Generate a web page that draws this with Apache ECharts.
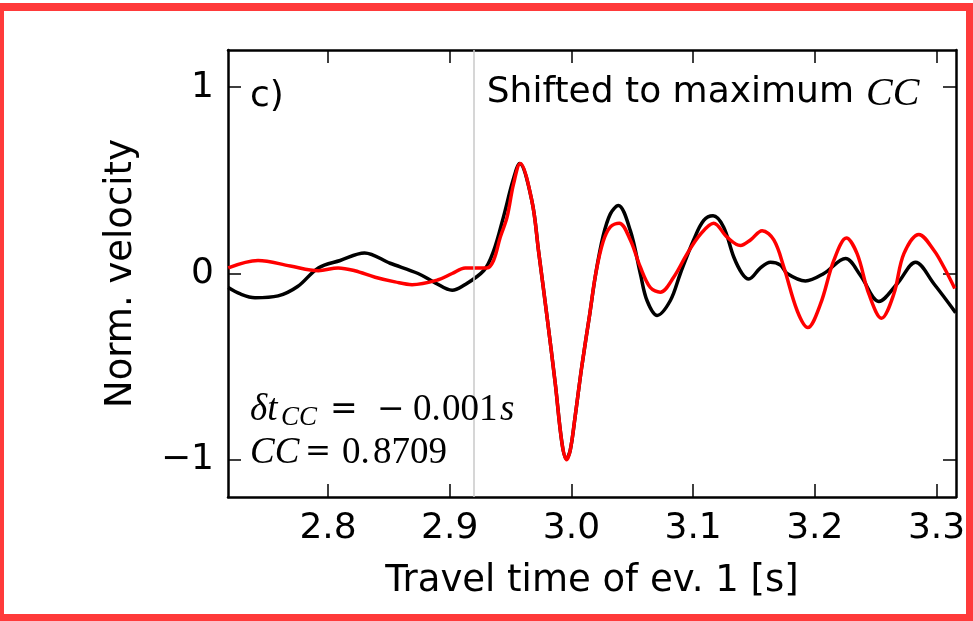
<!DOCTYPE html>
<html>
<head>
<meta charset="utf-8">
<script src="https://cdn.jsdelivr.net/npm/echarts@6/dist/echarts.min.js"></script>
<style>html,body{margin:0;padding:0;background:#fff}#c{width:973px;height:621px}</style>
</head>
<body>
<div id="c"></div>
<script>
// ---- data ----
const xTicks = [2.8, 2.9, 3.0, 3.1, 3.2, 3.3];
const yTicks = [-1, 0, 1];
const xRange = [2.7178, 3.316];
const yRange = [-1.2, 1.2];
const refLineTime = 2.9187;

const blackT = [2.718, 2.728, 2.740, 2.759, 2.775, 2.792, 2.810, 2.830, 2.851, 2.874, 2.888, 2.902, 2.910, 2.928, 2.936, 2.944, 2.952, 2.9574, 2.9675, 2.973, 2.980, 2.9867, 2.9922, 2.9958, 2.999, 3.003, 3.0085, 3.015, 3.020, 3.026, 3.032, 3.0385, 3.0484, 3.0566, 3.0621, 3.0704, 3.0813, 3.0895, 3.1004, 3.1087, 3.1164, 3.125, 3.1333, 3.1402, 3.1457, 3.1553, 3.1635, 3.1717, 3.1772, 3.1923, 3.2074, 3.2252, 3.2375, 3.2526, 3.2677, 3.2828, 3.2978, 3.3157];
const blackV = [-0.075, -0.11, -0.13, -0.12, -0.07, 0.03, 0.07, 0.11, 0.055, 0.0, -0.05, -0.09, -0.07, 0.016, 0.12, 0.30, 0.50, 0.59, 0.39, 0.12, -0.235, -0.59, -0.91, -0.995, -0.95, -0.77, -0.50, -0.22, 0.0, 0.20, 0.32, 0.365, 0.23, 0.0, -0.145, -0.225, -0.145, 0.0, 0.18, 0.285, 0.31, 0.25, 0.09, 0.0, -0.03, 0.03, 0.06, 0.045, 0.0, -0.04, 0.0, 0.08, -0.01, -0.15, -0.055, 0.06, -0.055, -0.21];

const redT = [2.718, 2.7425, 2.769, 2.792, 2.8083, 2.822, 2.8387, 2.855, 2.869, 2.890, 2.902, 2.9127, 2.9305, 2.936, 2.9415, 2.947, 2.9524, 2.9579, 2.9675, 2.973, 2.980, 2.9867, 2.9922, 2.996, 2.999, 3.003, 3.0085, 3.015, 3.020, 3.026, 3.032, 3.0393, 3.0484, 3.0566, 3.0648, 3.073, 3.084, 3.095, 3.1059, 3.1169, 3.1279, 3.1389, 3.1471, 3.1567, 3.1663, 3.1745, 3.1855, 3.1942, 3.2046, 3.2156, 3.226, 3.2348, 3.2444, 3.2548, 3.2649, 3.2731, 3.2855, 3.2978, 3.306, 3.315];
const redV = [0.03, 0.07, 0.04, 0.015, 0.03, 0.015, -0.02, -0.045, -0.06, -0.035, 0.0, 0.03, 0.03, 0.07, 0.195, 0.30, 0.48, 0.59, 0.39, 0.12, -0.235, -0.59, -0.91, -1.0, -0.95, -0.77, -0.50, -0.22, 0.0, 0.17, 0.25, 0.27, 0.18, 0.035, -0.075, -0.10, -0.02, 0.105, 0.21, 0.27, 0.195, 0.15, 0.18, 0.23, 0.18, 0.035, -0.2, -0.29, -0.165, 0.07, 0.19, 0.105, -0.11, -0.24, -0.11, 0.105, 0.21, 0.125, 0.035, -0.08];

const xLabel = 'Travel time of ev. 1 [s]';
const yLabel = 'Norm. velocity';
const panelLabel = 'c)';
// ---------------------------------------

const zip = (a, b) => a.map((t, i) => [t, b[i]]);
const SANS = 'DejaVu Sans';
const FRAME = '#ff3a3a';

const tickCommon = { show: true, inside: true, length: 13, lineStyle: { color: '#000', width: 1.5 } };
const lineCommon = { show: true, onZero: false, lineStyle: { color: '#000', width: 2.5 } };

const serif = (s, it) => (it ? 'italic ' : '') + s + 'px "Liberation Serif"';
const txt = (text, x, y, font) => ({ type: 'text', z: 50, style: { text, x, y, verticalAlign: 'middle', font, fill: '#000' } });

const chart = echarts.init(document.getElementById('c'), null, { renderer: 'canvas' });
chart.setOption({
  animation: false,
  backgroundColor: '#fff',
  grid: { left: 228, right: 17, top: 50, bottom: 124, containLabel: false },
  xAxis: [
    { type: 'value', min: xRange[0], max: xRange[1], position: 'bottom',
      axisLine: lineCommon,
      axisTick: Object.assign({}, tickCommon, { customValues: xTicks }),
      axisLabel: { customValues: xTicks, formatter: v => v.toFixed(1), fontFamily: SANS, fontSize: 36, color: '#000', margin: 14 },
      splitLine: { show: false },
      name: xLabel, nameLocation: 'middle', nameGap: 66,
      nameTextStyle: { fontFamily: SANS, fontSize: 37, color: '#000' } },
    { type: 'value', min: xRange[0], max: xRange[1], position: 'top',
      axisLine: lineCommon,
      axisTick: Object.assign({}, tickCommon, { customValues: xTicks }),
      axisLabel: { show: false }, splitLine: { show: false } }
  ],
  yAxis: [
    { type: 'value', min: yRange[0], max: yRange[1], position: 'left',
      axisLine: lineCommon,
      axisTick: Object.assign({}, tickCommon, { customValues: yTicks }),
      axisLabel: { customValues: yTicks, formatter: v => v < 0 ? '\u2212' + Math.abs(v) : String(v), fontFamily: SANS, fontSize: 36, color: '#000', margin: 14 },
      splitLine: { show: false },
      name: yLabel, nameLocation: 'middle', nameGap: 88, nameRotate: 90,
      nameTextStyle: { fontFamily: SANS, fontSize: 37, color: '#000' } },
    { type: 'value', min: yRange[0], max: yRange[1], position: 'right',
      axisLine: lineCommon,
      axisTick: Object.assign({}, tickCommon, { customValues: yTicks }),
      axisLabel: { show: false }, splitLine: { show: false } }
  ],
  series: [
    { type: 'line', data: [], z: 1, silent: true,
      markLine: { symbol: 'none', silent: true, label: { show: false },
        lineStyle: { color: '#c8c8c8', width: 1.5, type: 'solid' },
        data: [{ xAxis: refLineTime }] } },
    { name: 'ev1', type: 'line', data: zip(blackT, blackV), smooth: 0.35, showSymbol: false, z: 2,
      lineStyle: { color: '#000', width: 3.5 } },
    { name: 'ev2', type: 'line', data: zip(redT, redV), smooth: 0.35, showSymbol: false, z: 3,
      lineStyle: { color: '#ff0000', width: 3.5 } }
  ],
  graphic: [
    // outer red frame
    { type: 'rect', shape: { x: 0, y: 3, width: 973, height: 8 }, style: { fill: FRAME }, z: 100 },
    { type: 'rect', shape: { x: 0, y: 3, width: 4, height: 618 }, style: { fill: FRAME }, z: 100 },
    { type: 'rect', shape: { x: 966, y: 3, width: 7, height: 618 }, style: { fill: FRAME }, z: 100 },
    { type: 'rect', shape: { x: 0, y: 614, width: 973, height: 7 }, style: { fill: FRAME }, z: 100 },
    // panel label
    txt(panelLabel, 250, 97, '36px "DejaVu Sans"'),
    // title
    { type: 'text', z: 50, style: { text: 'Shifted to maximum', x: 854, y: 93, align: 'right', verticalAlign: 'middle', font: '36px "DejaVu Sans"', fill: '#000' } },
    txt('CC', 866, 94, serif(40, true)),
    // math annotation line 1
    txt('\u03B4t', 250, 410, serif(37, true)),
    txt('CC', 281, 418, serif(27, true)),
    txt('=', 330, 410, '33px "DejaVu Serif"'),
    txt('\u2212', 377, 410, '33px "DejaVu Serif"'),
    txt('0.', 413, 410, serif(37)),
    txt('001', 442, 410, serif(37)),
    txt('s', 500, 410, serif(37, true)),
    // math annotation line 2
    txt('CC', 250, 453, serif(37, true)),
    txt('=', 305, 453, '31px "DejaVu Serif"'),
    txt('0.', 342, 453, serif(37)),
    txt('8709', 373, 453, serif(37))
  ]
});
</script>
</body>
</html>
